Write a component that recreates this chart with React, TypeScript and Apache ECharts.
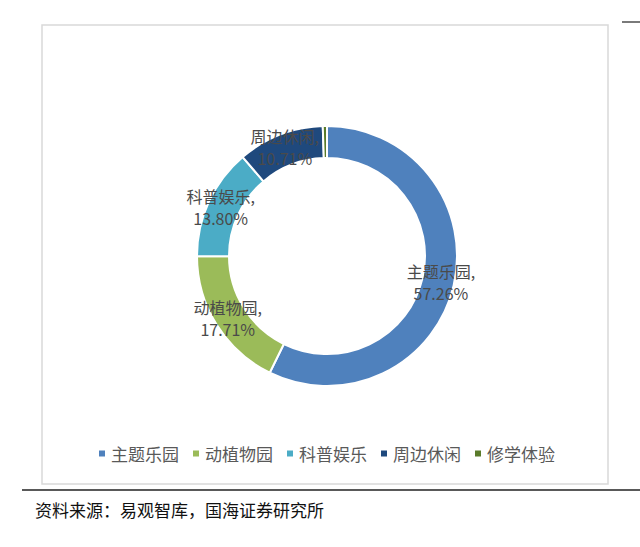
import React, { useEffect, useRef } from "react";
import * as echarts from "echarts";

const categories = ["主题乐园", "动植物园", "科普娱乐", "周边休闲", "修学体验"];
const shares = [57.26, 17.71, 13.8, 10.71, 0.52];
const colors = ["#4F81BD", "#9BBB59", "#4BACC6", "#1F497D", "#5A7B2A"];
const sourceNote = "资料来源：易观智库，国海证券研究所";

export default function App() {
  const ref = useRef<HTMLDivElement>(null);
  useEffect(() => {
    if (!ref.current) return;
    const chart = echarts.init(ref.current, undefined, { renderer: "svg" });
    const font = "'Noto Sans CJK SC', 'Noto Sans', sans-serif";
    chart.setOption({
      animation: false,
      backgroundColor: "#ffffff",
      color: colors,
      legend: {
        bottom: 80,
        left: 92,
        itemWidth: 8,
        itemHeight: 8,
        itemGap: 12,
        icon: "rect",
        textStyle: { color: "#595959", fontSize: 17, fontFamily: font },
        data: categories,
      },
      graphic: [
        {
          type: "rect",
          shape: { x: 42, y: 25, width: 566, height: 459 },
          style: { fill: "none", stroke: "#d9d9d9", lineWidth: 1.5 },
          silent: true,
        },
        {
          type: "line",
          shape: { x1: 622, y1: 22, x2: 640, y2: 22 },
          style: { stroke: "#222", lineWidth: 1.2 },
        },
        {
          type: "line",
          shape: { x1: 22, y1: 490, x2: 640, y2: 490 },
          style: { stroke: "#222", lineWidth: 1.5 },
        },
        {
          type: "text",
          x: 35,
          y: 509,
          style: {
            text: sourceNote,
            fill: "#111",
            fontSize: 17,
            fontFamily: font,
            verticalAlign: "middle",
          },
        },
      ],
      series: [
        {
          type: "pie",
          center: [327, 256],
          radius: [98, 130],
          startAngle: 90,
          clockwise: true,
          avoidLabelOverlap: false,
          itemStyle: { borderColor: "#ffffff", borderWidth: 2 },
          label: {
            show: true,
            position: "inside",
            color: "#4a4a4a",
            fontSize: 16,
            lineHeight: 22,
            fontFamily: font,
            formatter: (p: any) =>
              p.value < 1 ? "" : `${p.name},\n${Number(p.value).toFixed(2)}%`,
          },
          labelLine: { show: false },
          data: categories.map((c, i) => ({ name: c, value: shares[i] })),
        },
      ],
    });
    return () => chart.dispose();
  }, []);
  return (
    <div
      ref={ref}
      style={{ position: "absolute", left: 0, top: 0, width: 640, height: 547 }}
    />
  );
}
